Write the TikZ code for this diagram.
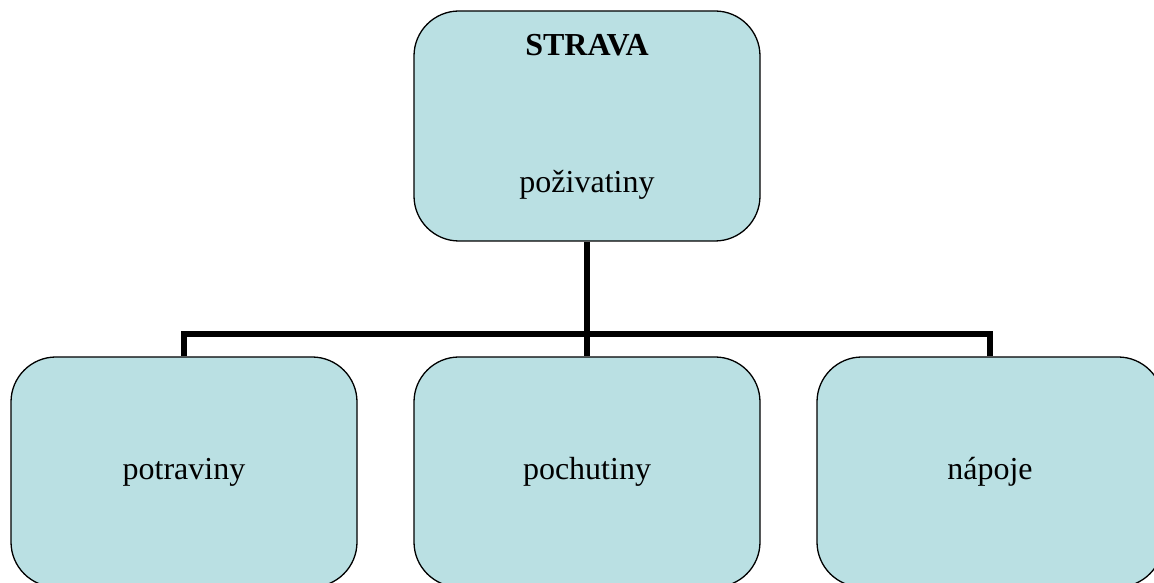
\documentclass[tikz,border=0pt]{standalone}
\usepackage{fontspec}
\setmainfont{Liberation Serif}
\definecolor{boxfill}{HTML}{BAE0E3}
\begin{document}
\begin{tikzpicture}[x=1pt,y=1pt,
  box/.style={draw=black, line width=1.3pt, fill=boxfill, rounded corners=45pt,
    minimum width=346pt, minimum height=230pt, inner sep=0pt},
  lbl/.style={font=\fontsize{32}{38}\selectfont, inner sep=0pt},
  conn/.style={draw=black, line width=5.5pt}]
\useasboundingbox (0,0) rectangle (1154,583);
\clip (0,0) rectangle (1154,583);
\coordinate (j) at (587,249);
\node[box] (top) at (587,457) {};
\node[box] (left) at (184,111) {};
\node[box] (mid) at (587,111) {};
\node[box] (right) at (990,111) {};
\draw[conn] (top.south) -- (mid.north);
\draw[conn] (left.north) |- (j) -| (right.north);
\node[lbl, font=\fontsize{32}{38}\selectfont\bfseries] (t1) at (587,538) {STRAVA};
\node[lbl] (t2) at (587,398) {poživatiny};
\node[lbl] (t3) at (left) {potraviny};
\node[lbl] (t4) at (mid) {pochutiny};
\node[lbl] (t5) at (right) {nápoje};
\end{tikzpicture}
\end{document}
